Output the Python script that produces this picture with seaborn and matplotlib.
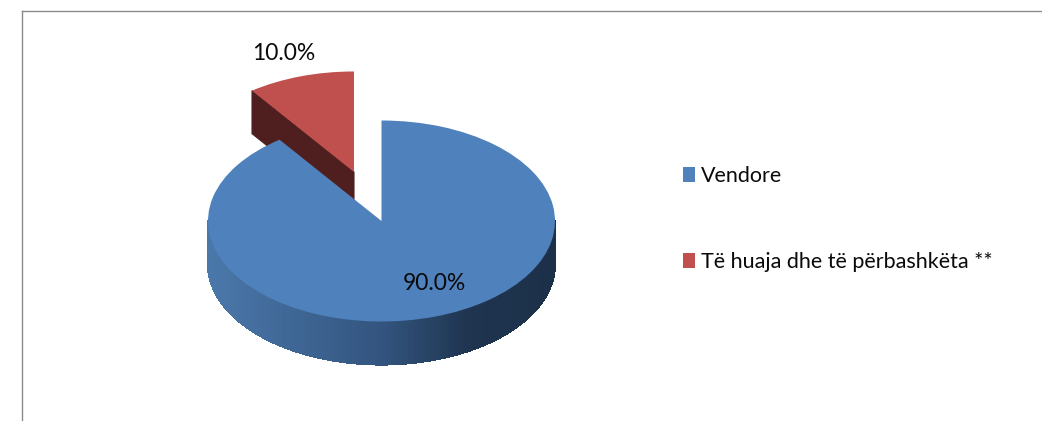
import numpy as np
import matplotlib
matplotlib.use("Agg")
import matplotlib.pyplot as plt
from matplotlib.colors import to_rgb
import seaborn as sns

categories = ["Vendore", "Të huaja dhe të përbashkëta **"]
shares = [90.0, 10.0]
pie_colors = ["#4f81bd", "#c0504d"]

sns.set_theme(style="white")
plt.rcParams["font.family"] = ["Lato", "DejaVu Sans"]

W, H = 1042, 421
fig = plt.figure(figsize=(W / 100, H / 100), dpi=100, facecolor="white")
left, top = 22, 10.5
ax = fig.add_axes([left / W, 0, 1 - left / W, 1 - top / H])

wedges, _, autotexts = ax.pie(
    shares, colors=pie_colors, startangle=90, counterclock=False,
    explode=[0, 0.513], autopct="%.1f%%", frame=True,
    wedgeprops=dict(linewidth=0),
    textprops=dict(fontsize=16.5, color="#0a0a0a"),
)

# Flatten the circle into the tilted ellipse of the reference
cx, cy, rx, ry = 381.5, 221.0, 173.5, 100.5
ax.set_aspect("auto")
ax.set_xlim((left - cx) / rx, (W - cx) / rx)
ax.set_ylim((cy - H) / ry, (cy - top) / ry)
ax.set_xticks([])
ax.set_yticks([])
for side in ["right", "bottom"]:
    ax.spines[side].set_visible(False)
for side in ["left", "top"]:
    ax.spines[side].set_visible(True)
    ax.spines[side].set_color("#8a8a8a")
    ax.spines[side].set_linewidth(1.0)

depth = 43 / ry
main, small = wedges
main.set_zorder(5)
small.set_zorder(3)

# Red slice: the cut face seen below its left radius
c = np.array(small.center)
a = np.deg2rad(small.theta2)
rim = c + small.r * np.array([np.cos(a), np.sin(a)])
drop = np.array([0, depth])
face = np.array([c, rim, rim - drop, c - drop])
ax.fill(face[:, 0], face[:, 1], facecolor="#4f1f1f", edgecolor="#4f1f1f", lw=0.8, zorder=2)

# Blue slice: outer wall with a left-to-right shade
stops_x = [-1.0, 0.0, 0.5, 1.0]
stops_c = [np.array(to_rgb(s)) for s in ["#4b78ab", "#33557f", "#1f3550", "#1c3048"]]
angles = np.deg2rad(np.arange(-180, 1, 1.0))
for a0, a1 in zip(angles[:-1], angles[1:]):
    xs = np.cos([a0, a1])
    ys = np.sin([a0, a1])
    shade = [np.interp(xs.mean(), stops_x, [s[k] for s in stops_c]) for k in range(3)]
    ax.fill([xs[0], xs[1], xs[1], xs[0]],
            [ys[0], ys[1], ys[1] - depth, ys[0] - depth],
            color=shade, lw=0.8, antialiased=False, zorder=4)

# Percent labels
autotexts[0].set_position(((434.5 - cx) / rx, (cy - 284) / ry))
autotexts[1].set_position(((284 - cx) / rx, (cy - 53) / ry))
for t in autotexts:
    t.set_zorder(6)

# Legend
fs = 15.5
px = 72 / 100 / fs  # one pixel in font-size units
ax.legend(
    wedges, categories, loc="upper left",
    bbox_to_anchor=(683 / W, 1 - 166 / H), bbox_transform=fig.transFigure,
    frameon=False, borderpad=0, borderaxespad=0, fontsize=fs,
    handlelength=12 * px, handleheight=16 * px, handletextpad=6 * px,
    labelspacing=66 * px, labelcolor="#0a0a0a",
)

fig.savefig("out.png", dpi=100, facecolor="white")
